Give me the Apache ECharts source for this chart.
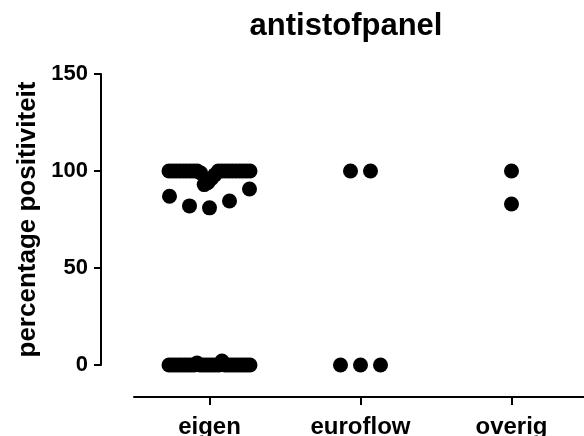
<!DOCTYPE html>
<html>
<head>
<meta charset="UTF-8">
<title>antistofpanel</title>
<script src="https://cdn.jsdelivr.net/npm/echarts@6/dist/echarts.min.js"></script>
<style>
  html, body { margin: 0; padding: 0; background: #fff; }
  #main { width: 584px; height: 436px; }
</style>
</head>
<body>
<div id="main"></div>
<script>
// data
var categories = ['eigen', 'euroflow', 'overig'];
var eigen = [
  94, 96, 93, 98, 99,
  100, 100, 100, 100, 100, 100, 100, 100, 100, 100,
  100, 100, 100, 100, 100, 100, 100, 100, 100,
  81, 82, 84.5, 87, 90.7,
  0, 0, 0, 0, 0, 0, 0, 1, 2,
  0, 0, 0, 0, 0, 0, 0, 0, 0,
  0, 0, 0, 0, 0, 0, 0, 0, 0
];
var euroflow = [100, 100, 0, 0, 0];
var overig = [100, 83];
var yTicks = [0, 50, 100, 150];

var FONT = '"Liberation Sans", Arial, sans-serif';
var GRID_W = 453;
var BAND = GRID_W / categories.length;   // px per category
var DOT = 15, STEP = 20, MAXW = 81, BIN = 11;

// simple prism-like scatter layout: group close values, spread them around the centre
function swarm(values, cat) {
  var order = values.map(function (v, i) { return i; })
    .sort(function (a, b) { return values[a] - values[b] || a - b; });
  var bins = [], cur = null;
  order.forEach(function (i) {
    if (!cur || values[i] - values[cur[0]] > BIN) { cur = [i]; bins.push(cur); }
    else cur.push(i);
  });
  var out = [];
  bins.forEach(function (b) {
    b.sort(function (a, c) { return a - c; });
    var n = b.length;
    var step = n > 1 ? Math.min(STEP, MAXW / (n - 1)) : 0;
    var slots = [];
    for (var k = 0; k < n; k++) slots.push((k - (n - 1) / 2) * step);
    slots.sort(function (a, c) { return Math.abs(a) - Math.abs(c) || a - c; });
    b.forEach(function (i, j) {
      out.push([cat + slots[j] / BAND, values[i]]);
    });
  });
  return out;
}

var groups = [eigen, euroflow, overig];

var myChart = echarts.init(document.getElementById('main'));
var option = {
  animation: false,
  backgroundColor: '#fff',
  title: {
    text: 'antistofpanel',
    left: 341,
    top: 6,
    textAlign: 'center',
    textStyle: { fontFamily: FONT, fontSize: 31, fontWeight: 'bold', color: '#000' }
  },
  grid: { left: 134, top: 74, width: GRID_W, bottom: 71, containLabel: false, outerBoundsMode: 'none' },
  xAxis: [{
    type: 'category',
    data: categories,
    offset: 32,
    axisLine: { onZero: false, lineStyle: { color: '#000', width: 2 } },
    axisTick: { show: true, alignWithLabel: true, length: 8, lineStyle: { color: '#000', width: 2 } },
    axisLabel: { fontFamily: FONT, fontSize: 24, fontWeight: 'bold', color: '#000', margin: 18 },
    splitLine: { show: false }
  }, {
    type: 'value',
    min: -0.5,
    max: categories.length - 0.5,
    show: false
  }],
  yAxis: {
    type: 'value',
    min: yTicks[0],
    max: yTicks[yTicks.length - 1],
    interval: yTicks[1] - yTicks[0],
    offset: 33,
    name: 'percentage positiviteit',
    nameLocation: 'middle',
    nameRotate: 90,
    nameGap: 54,
    nameTextStyle: { fontFamily: FONT, fontSize: 26, fontWeight: 'bold', color: '#000' },
    axisLine: { show: true, onZero: false, lineStyle: { color: '#000', width: 2 } },
    axisTick: { show: true, length: 7, lineStyle: { color: '#000', width: 2 } },
    axisLabel: { fontFamily: FONT, fontSize: 22, fontWeight: 'bold', color: '#000', margin: 13 },
    splitLine: { show: false }
  },
  series: groups.map(function (g, c) {
    return {
      type: 'scatter',
      name: categories[c],
      xAxisIndex: 1,
      symbol: 'circle',
      symbolSize: DOT,
      itemStyle: { color: '#000', opacity: 1 },
      data: swarm(g, c)
    };
  })
};
myChart.setOption(option);
</script>
</body>
</html>
